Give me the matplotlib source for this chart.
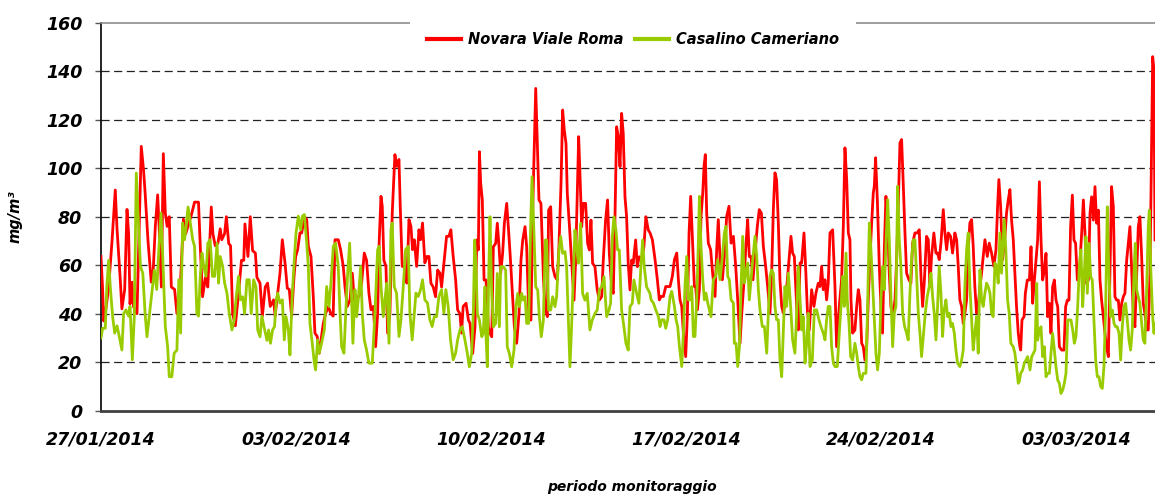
import numpy as np
import matplotlib
matplotlib.use("Agg")
import matplotlib.pyplot as plt
from matplotlib.patches import Rectangle

# ore dall'inizio del monitoraggio (27/01/2014 00:00) e concentrazioni
novara_h = [
    0, 1.4, 2.3, 3.7, 6.6, 9.5, 12.3, 13.8, 16.6, 18, 20.4, 22.4, 23.8, 25, 26.7, 28, 31, 32.4, 34.7, 36.7,
    38, 40.5, 43.3, 45, 46.8, 48.8, 50, 52, 53.7, 55.4, 57, 58.8, 60.6, 63.4, 65.4, 68.3, 71, 73, 75.5, 78,
    80.6, 84, 85.5, 87.5, 90, 92, 95, 96.4, 98.4, 100.7, 102.7, 104, 106.5, 108, 110, 111.6, 113.4, 115.7,
    118.5, 121, 123, 124, 126.6, 128.6, 130.6, 133, 134.3, 137, 139, 141.5, 143.5, 145.8, 148.7, 150, 152.2,
    154.2, 156.2, 158.5, 160.5, 162.2, 164.2, 166.3, 167.7, 169.4, 171.4, 172.9, 175.2, 177.2, 178.6, 180.9,
    182.9, 184.3, 186.3, 188, 190, 191.5, 193.5, 195.8, 198, 200, 201.6, 204.4, 206.4, 208.7, 210.2, 212.2,
    214.5, 216.5, 218.2, 220.2, 222.2, 224.5, 226.8, 228.8, 230.8, 232.6, 234.6, 236.6, 238.3, 239.7, 241.2,
    242.3, 243.7, 245.5, 246.9, 248.9, 250.9, 253.2, 254.7, 256.7, 257.8, 259.5, 261.8, 263.5, 265.3, 267,
    268.4, 269.9, 271.9, 273.9, 275.3, 277, 279, 280.8, 282.5, 284.2, 286.2, 288.2, 290, 292, 293.4, 295.7,
    297.7, 299.7, 301.4, 303.4, 305.5, 307.2, 309.2, 310.6, 312,
    314.5, 316.5, 317.9, 320.2, 322.2, 323.7, 325.1, 326, 327.1, 328.5, 330, 331.7, 333.7, 335.1, 336.6,
    338, 340, 341.4, 342.9, 344.3, 346, 347.5, 349.5, 350.9, 352.4, 354.4, 356.1, 358.1, 360.1, 361.8,
    363.3, 365.3, 366.7, 368.7, 370.4, 371.9, 373.3, 374.5, 375.9, 377.3, 379, 381.1, 382.5, 384.5, 385.6,
    387.4, 389.1, 391.1, 393.1, 394.5, 396.3, 397.7, 399.1, 400.6, 401.7, 403.4, 405.4, 407.5, 408.9, 410.3,
    411.5, 412.6, 414.1, 415.5, 417.5, 419.2, 420.7, 422.1, 423.5, 425.5, 427.5, 429.3, 431.3, 432.7, 434.7,
    436.4, 437.9, 439.9, 441.3, 442.8, 444.2, 445.6, 447.1, 448.5, 449.9, 451.4, 452.8, 454.2, 455.7, 457.1,
    458.5, 460.6, 462, 463.7, 465.7, 467.7, 469.4, 471.5,
    473, 475, 477.3, 479.3, 481, 482.5, 484.5, 486.5, 488.2, 490.2, 492.2, 494, 496, 497.4, 498.8, 500.3,
    501.7, 503.7, 505.1, 506.6, 508, 509.5, 511.2, 512.3, 513.8, 515.5, 516.9, 518.4, 519.5, 520.6, 521.8,
    523.2, 525.2, 526.9, 529, 530.4, 531.8, 533.3, 535.3, 537, 539, 541, 542.8, 544.8, 546.8, 548.5, 550.5,
    552, 554, 555.7, 557.1, 558.5, 560, 561.7, 563.4, 565.4, 567.1, 568.9, 570.6, 572.6, 574.3, 576.3,
    577.7, 579.2, 580.6, 582, 583.5, 584.9, 586.4, 587.8, 589.8, 591.5, 592.9, 594.4, 595.8, 597.3, 599.3,
    600.7, 602.2, 603.6, 605.6, 607, 608.5, 610.2, 612.2, 614.2, 615.9, 617.9, 619.4, 620.8, 622.2, 623.7,
    625.1, 626.5,
    628, 630.3, 632.3, 633.7, 636, 638, 639.5, 640.9, 642.4, 643.8, 645.2, 646.1, 647.5, 649.5, 651, 652.4,
    653.8, 655.3, 656.7, 658.1, 659.6, 661, 662.4, 663.9, 665.3, 666.2, 667.3, 668.8, 670.5, 671.9, 673.3,
    674.8, 676.2, 677.7, 679.1, 680.5, 682, 684, 685.4, 686.8, 688.3, 689.7, 691.1, 692.6, 694, 696, 697.7,
    699.2, 701.2, 703.2, 704.9, 706.4, 707.8, 709.2, 711.2, 712.7, 714.1, 715.5, 717.5, 719.3, 720.7, 722.1,
    723.6, 725.6, 727, 728.5, 729.9, 731.9, 733.6, 735.6, 737.1, 738.5, 739.9, 741.4, 742.8, 744.2, 745.7,
    747.1, 748.5, 750, 751.4, 752.8, 754.3, 755.7, 757.2, 758.6, 760, 761.5, 763.5, 765.2, 767.2, 769.2,
    771, 772.4, 773.5, 775, 776.7, 778.7, 780.1, 781.6, 783, 784.4, 785.9, 787.3, 788.7, 790.2, 791.6,
    792.3, 793.4, 795.2, 796.3, 798, 799.8, 801.2, 802.6, 804.1, 805.5, 806.9, 808.4, 809.8, 811.2, 812.7,
    814.1, 815.5, 817, 818.4, 819.8, 821.3, 822.7, 824.2, 825.6, 827.6, 829.6, 831, 832.5, 833.9, 835.3,
    836.8, 838.2, 839.6, 841.1, 842.8, 844.8, 846.3, 847.7, 849.1, 850.6, 852, 853.4, 854.9, 856.3, 857.7,
    859.2, 860.6, 862, 863.5, 864.9, 866.3, 867.8, 869.2, 870.6, 872.1, 873.5, 874.9, 876.4, 877.8, 879.3,
    880.7, 882.1, 883.6, 885, 886.4, 887.9, 889.3, 890.7, 892.2, 893.6, 895, 896.5, 897.9, 899.3, 900.8,
    902.2, 903.7, 905.1, 906, 907.1, 908]
novara_v = [
    63.6, 50, 37, 40, 51, 70, 91, 75, 54, 42, 50, 83, 73, 44, 53, 43, 40, 66, 109, 99,
    90, 70, 53, 58, 76, 89, 77, 51, 106, 81.5, 76, 80, 51, 50, 40, 51, 79, 73, 77, 81,
    86, 86, 68, 47, 55, 51, 84, 73, 68, 69, 75, 70.5, 73, 80, 69, 68, 40, 35,
    48.5, 62, 62, 77, 63.6, 80, 66, 65, 55, 52.6, 39, 51, 52.6, 43, 45.7, 39, 48.5,
    56.7, 70.5, 61, 50.5, 50, 39, 55.4, 63.6, 66.4, 73.3, 73.3, 80, 78.8, 67.8, 63.6,
    47, 32, 30.6, 23.7, 30.6, 36, 40, 43, 40, 39, 70.5, 70.5, 66.4, 59.5, 51, 43,
    45.7, 56.7, 45.7, 47, 47, 52.6, 65, 62, 48.5, 41.6, 43, 26.4, 40, 70.5, 88.4,
    84.3, 62, 59.5, 32, 40, 81.5, 105.6, 100.8, 103.6, 84.3, 59.5, 59.5, 52.6, 78.8, 76,
    66.4, 70.5, 59.5, 74.6, 70.5, 77.4, 61, 63.6, 63.6, 52.6, 51, 47, 58, 56.7, 51, 62,
    71.9, 71.9, 74.6, 63.6, 54, 41.6, 40, 32, 43,
    44.3, 37.4, 36, 23.6, 34.6, 70.4, 66.3, 106.8, 93.7, 86.9, 53.9, 53.9, 34.6, 31.9, 30.5,
    67.6, 69, 77.3, 67.6, 56.6, 64.9, 77.3, 85.5, 75.9, 64.9, 48.4, 34.6, 27.8, 40, 62.1,
    70.4, 75.9, 67.6, 37.4, 37.4, 82.7, 110.2, 132.9, 110.2, 86.9, 85.5, 55.3, 42.9, 38.8, 82.7,
    84.1, 59.4, 55.3, 53.9, 67.6, 93.7, 124, 115.7, 110.2, 89.6, 77.3, 62.1, 45.6, 62.1, 89.6,
    113, 97.9, 75.9, 85.5, 85.5, 69, 66.3, 78.6, 60.8, 59.4, 49.8, 45.6, 47, 62.1, 78.6,
    86.9, 64.9, 51.1, 48.4, 80, 117.1, 113, 100.6, 122.6, 114.4, 88.2, 80, 60.8, 49.8, 62.1,
    60.8, 70.4, 59.4, 63.5, 62.1, 67.6, 80, 74.5,
    73.3, 70.5, 62.3, 54, 45.7, 47.1, 47.1, 51.2, 51.2, 51.2, 55.4, 62.3, 65, 54, 45.7, 43,
    32, 22.3, 38.8, 73.3, 88.4, 70.5, 51.2, 51.2, 41.6, 49.9, 80.2, 89.8, 100.8, 105.6, 81.5,
    69.1, 66.4, 56.7, 47.1, 66.4, 78.8, 62.3, 54, 63.6, 80.2, 84.3, 69.1, 71.9, 59.5, 45.7, 27.8,
    40.2, 54, 69.1, 78.8, 63.6, 63.6, 54, 65, 76, 82.9, 81.5, 67.8, 59.5, 51.2, 40.2,
    55.4, 82.9, 98.1, 95.3, 77.4, 54, 43, 40.2, 45.7, 55.4, 63.6, 71.9, 65, 63.6, 43,
    33.3, 60.9, 60.9, 73.3, 59.5, 41.6, 33.3, 49.9, 43, 48.5, 52.6, 51.2, 59.5, 49.9, 54,
    45.7, 52.6,
    73.3, 74.6, 51.2, 26.4, 43, 54, 76, 108.4, 95.3, 73.3, 70.5, 45.7, 32, 33.3, 43, 49.9,
    45.7, 27.8, 26.4, 20.9, 26.4, 45.7, 62.3, 77.4, 89.8, 92.6, 104.3, 87, 59.5, 43, 32,
    66.4, 88.4, 77.4, 56.7, 43, 38.8, 45.7, 62.3, 84.3, 110.5, 111.8, 93.9, 73.3, 56.7, 54, 52.6,
    69.1, 73.3, 73.3, 74.6, 55.4, 43, 52.6, 71.9, 70.5, 51.2, 63.6, 73.3, 65, 65, 62.3,
    69.1, 82.9, 73.3, 66.4, 73.3, 71.9, 65, 73.3, 70.5, 59.5, 45.7, 43, 36, 40.2, 45.7,
    66.4, 77.4, 78.8, 67.8, 51.2, 40.2, 43, 51.2, 56.7, 63.6, 70.5, 63.6, 69.1, 65, 59.5,
    66.4, 84.3, 95.3, 84.3, 62.3, 71.9, 81.5, 87, 91.2, 78.8, 70.5, 56.7, 43, 32, 26.4,
    25, 37.4, 38.8, 48.4, 53.9, 53.9, 67.6, 44.3, 53.9, 62.1, 70.4, 94.4, 70.4, 53.9, 58,
    64.9, 38.8, 44.3, 31.9, 51.1, 53.9, 45.6, 42.9, 26.4, 25, 25, 42.9, 45.6, 45.6, 75.9,
    88.9, 70.4, 69, 53.9, 56.6, 73.1, 86.9, 73.1, 52.5, 53.9, 81.4, 88.2, 78.6, 92.4, 77.3,
    82.7, 53.9, 45.6, 38.8, 31.9, 26.4, 22.3, 56.6, 92.4, 84.1, 47, 45.6, 45.6, 37.4, 44.3,
    47, 48.4, 62.1, 69, 75.9, 58, 40.1, 34.6, 56.6, 75.9, 80, 63.5, 44.3, 40.1, 33.3,
    33.3, 56.6, 111.6, 146, 140.5, 70.4]

casalino_h = [
    0, 1.4, 3.7, 5, 6.6, 8, 10, 11.8, 13.8, 15.8, 18, 19.5, 21.5, 23.8, 25, 27, 28.7, 30.4, 32.4, 34,
    36, 38, 39.6, 41.6, 44, 46, 48, 50, 51.7, 53, 55.4, 57.4, 58.8, 61, 63, 65.4, 67, 68.6, 70.3, 72,
    73, 75, 77, 79, 80.6, 82.6, 84, 85.5, 87, 88.5, 90.4, 92, 94, 96, 97.9, 100, 101.3, 102.7, 104.8,
    106.5, 108.5, 110.5, 112.8, 114.8, 116.5, 118.5, 120, 122, 123.7, 125.7, 127.7, 129.4, 131.5, 133.5,
    135, 137, 138.6, 141, 143, 144.4, 146, 147.8, 149.5, 151, 152.2,
    154.2, 156.2, 157.9, 159.4, 161.4, 162.8, 164.8, 166.5, 168, 170, 172, 173.4, 175.2, 177.2, 178.6,
    180, 182, 183.8, 184.9, 186.6, 188, 190, 192.4, 194.4, 196.4, 198.1, 200.1, 202.1, 204.4, 205.9,
    207.3, 209.3, 210.7, 212.5, 214.2, 215.9, 217, 218.8, 220.2, 221.6, 223.7, 225.1, 226.8, 228.8,
    230.8, 233.7, 236, 238.3, 239.7, 241.2, 243.2, 244.6, 246.1, 248.1, 249.8, 250.9, 252.6, 254.6,
    256.7, 258.4, 260.4, 262.4, 264.7, 266.1, 268.1, 269.9, 271.3, 273.3, 275.3, 277, 279, 281.3,
    283.3, 285.3, 287.1, 289.1, 291.1, 293.4, 295.4, 297.1, 299.1, 301.1, 303.4, 305.5, 307.2, 309.2,
    311.2, 313.5,
    315.6, 317.3, 319.3, 320.8, 321.9, 323.1, 324.2, 326, 328, 329.4, 330.8, 331.7, 332.8, 334, 335.1,
    336.6, 338, 340, 341.4, 343.2, 344.3, 346.6, 348.6, 350, 351.8, 353.8, 355.8, 357.5, 359, 360.4,
    362.4, 363.8, 365.3, 366.7, 368.4, 370.1, 371.3, 373, 374.5, 376.2, 377.6, 379.3, 381.1, 382.8,
    383.9, 385.6, 387.4, 389.1, 391.1, 392.5, 394.5, 396, 397.7, 399.7, 401.1, 402.6, 404, 405.4,
    406.9, 408.3, 409.7, 411.2, 413.2, 414.9, 416.9, 418.9, 421.2, 423.2, 425.5, 427.5, 429.3, 431.3,
    433.3, 435.6, 437.6, 439, 440.5, 441.9, 443.6, 445, 446.5, 448.5, 450.5, 452.2, 454.2, 455.7,
    457.7, 459.1, 461.4, 463.4, 465.1, 466.6, 468, 470, 472.9,
    473.9, 475.9, 477.9, 480.2, 481.6, 483, 485, 486.5, 488.2, 490.2, 491.7, 494, 495.4, 496.8, 498.3,
    500.3, 501.7, 503.1, 504.6, 506, 507.4, 508.9, 510.3, 511.7, 513.2, 514.6, 515.5, 516.9, 518.4,
    519.8, 521.2, 522.7, 524.1, 525.5, 527.5, 529.5, 531.3, 533.3, 535.3, 537, 538.4, 539.9, 541.3,
    542.8, 544.8, 545.6, 547.1, 548.5, 550, 551.4, 552.8, 554.3, 555.7, 557.1, 558.5, 560, 561.7,
    563.4, 564.9, 566.3, 567.7, 569.7, 571.5, 573.5, 574.9, 576.3, 577.7, 579.2, 580.6, 582, 583.5,
    584.9, 586.4, 587.8, 589.2, 590.7, 592.1, 594.1, 595.8, 597.8, 599.3, 600.7, 602.2, 603.6, 605,
    606.5, 607.9, 609.3, 610.8, 612.8, 614.5, 616.5, 618.5, 620.2, 622.2, 623.7, 625.1, 626.5,
    628, 629.4, 630.9, 632.3, 634.3, 636, 637.5, 638.9, 640.3, 641.8, 642.9, 644.4, 645.8, 647.5,
    649.5, 651, 652.4, 653.8, 655.3, 656.7, 659, 660.4, 661.9, 663.3, 664.7, 666.2, 667.6, 669,
    670.5, 671.9, 673.3, 674.8, 676.2, 677.7, 679.1, 680.5, 682, 683.4, 684.8, 686.3, 687.7, 689.1,
    690.6, 692.3, 694, 695.4, 696.9, 698.3, 699.7, 701.2, 702.6, 704.1, 705.5, 706.9, 708.4, 710.1,
    711.8, 713.5, 715, 716.4, 717.8, 719.3, 720.7, 722.1, 723.6, 725, 726.4, 727.9, 729.3, 730.7,
    732.2, 733.6, 735.1, 736.5, 737.9, 739.9, 741.4, 742.8, 744.2, 745.7, 747.1, 748.5, 750, 751.4,
    752.8, 754.3, 755.7, 757.2, 758.6, 760, 761.5, 762.9, 764.3, 765.8, 767.2, 768.6, 770.1, 771.5,
    772.9, 774.4, 775.8, 777.2, 778.1, 779.5, 781, 782.4, 783.8, 785.9, 787.3, 788.7, 790.2,
    791.1, 792.3, 794, 795.4, 796.9, 798.3, 800.3, 801.8, 803.2, 804.6, 806.1, 806.9, 808.4, 809.8,
    811.2, 812.7, 814.1, 815.5, 817, 818.4, 819.8, 821.3, 822.7, 824.2, 825.6, 827, 828.5, 829.9,
    831.3, 832.8, 834.2, 835.6, 837.1, 838.5, 839.9, 841.4, 842.8, 844.2, 845.7, 847.1, 848.5, 849.7,
    851.1, 852.6, 854, 855.4, 856.9, 858.3, 859.7, 861.2, 862.6, 864, 865.5, 866.9, 868.3, 869.8,
    871.2, 872.7, 874.1, 875.5, 877, 878.4, 879.8, 881.3, 882.7, 884.1, 885.6, 887, 888.4, 889.9,
    891, 892.2, 893.6, 895, 896.5, 897.9, 899.3, 900.8, 902.2, 903.1, 904.5, 906, 907.1, 908]
casalino_v = [
    30, 34, 34, 51, 62, 51, 39, 32, 35, 30.5, 25, 40, 41.6, 39, 43, 21, 39, 98, 76, 59.5,
    56.7, 40, 30.5, 39, 49, 58, 50, 68, 81.5, 66, 34.7, 26.4, 14, 14, 23.7, 25, 54, 32, 77.4, 70.5,
    74.6, 84, 77.4, 70.5, 67.8, 40, 39, 55.4, 65, 59.5, 55.4, 69, 70.5, 55.4, 55.4, 69, 52.6, 63.6, 59.5,
    52.6, 48.5, 40, 33.3, 37.5, 47, 55.4, 45.7, 47, 40, 54, 54, 40, 54, 51,
    33.3, 30.5, 39, 33.3, 29, 33.3, 27.8, 33.3, 34.7, 45.7, 48.5,
    44.4, 45.7, 29.2, 38.8, 33.3, 23, 48.5, 62.3, 73.3, 80.2, 74.6, 80.2, 80.9, 69.1, 59.5,
    36, 27.8, 19.6, 16.8, 29.2, 23.7, 27.8, 33.3, 51.2, 43, 52.6, 67.8, 69.1, 59.5, 40.2,
    26.4, 23.7, 38.8, 56.7, 69.1, 45.7, 27.8, 49.9, 38.8, 45.7, 59.5, 40.2, 29.2, 25,
    19.6, 19.6, 40.2, 66.4, 67.8, 51.2, 38.8, 45.7, 52.6, 27.8, 74.6, 77.4, 51.2, 48.5,
    30.6, 37.5, 51.2, 66.4, 67.8, 40.2, 29.2, 40.2, 48.5, 47.1, 49.9, 54, 45.7, 44.4,
    37.5, 34.7, 38.8, 38.8, 47.1, 49.9, 40.2, 49.9, 43, 29.2, 21, 23.7, 29.2, 33.3,
    34.7, 29.2,
    23.6, 18.1, 23.6, 41.5, 70.4, 59.4, 40.1, 37.4, 30.5, 31.9, 51.1, 30.5, 18.1, 55.3, 80,
    48.4, 34.6, 36, 56.6, 34.6, 59.4, 59.4, 58, 26.4, 23.6, 18.1, 25, 42.9, 48.4, 42.9,
    48.4, 45.6, 47, 36, 36, 75.9, 96.5, 73.1, 51.1, 49.8, 38.8, 30.5, 37.4, 70.4,
    70.4, 41.5, 41.5, 47, 42.9, 47, 66.3, 71.8, 64.9, 65.6, 59.4, 37.4, 18.1, 34.6,
    55.3, 74.5, 67.6, 60.8, 77.3, 48.4, 45.6, 48.4, 33.3, 37.4, 40.1, 41.5, 49.8, 51.1,
    55.3, 38.8, 41.5, 44.3, 71.8, 80, 74.5, 66.3, 66.3, 41.5, 34.6, 27.8, 25, 42.9,
    44.3, 53.9, 48.4, 44.3, 59.4, 70.4, 59.4, 51.1, 48.4,
    45.7, 44.4, 41.6, 38.8, 34.7, 37.5, 37.5, 34, 37.5, 47.1, 49.2, 43, 37.5, 34.7, 26.4,
    18.2, 32, 51.2, 63.6, 45.7, 45.7, 51.2, 30.6, 30.6, 45.7, 69.1, 88.4, 67.8, 54,
    45.7, 48.5, 44.4, 41.6, 38.8, 54, 55.4, 62.3, 54, 63.6, 73.3, 76, 55.4, 54,
    45.7, 44.4, 27.8, 27.8, 18.2, 26.4, 51.2, 71.9, 52.6, 56.7, 60.9, 45.7, 54, 63.6,
    71.9, 63.6, 49.9, 41.6, 34.7, 34.7, 23.7, 40.2, 55.4, 58.1, 56.7, 43, 37.5, 37.5,
    20.9, 14, 32, 51.2, 43, 56.7, 43, 29.2, 23.7, 40.2, 59.5, 45.7, 33.3, 38.8,
    19.6, 27.8, 40.2, 18.2, 20.9, 41.6, 41.6, 37.5, 34.7, 32, 29.2, 37.5, 43,
    43, 26.4, 19.6, 18.2, 18.2, 32, 43, 55.4, 43, 65, 45.7, 36, 22.3, 20.9,
    27.8, 23.7, 18.2, 14, 12.7, 15.4, 15.4, 43, 77.4, 66.4, 52.6, 37.5, 23.7, 16.8,
    23.7, 45.7, 59.5, 49.9, 67.8, 87, 70.5, 47.1, 26.4, 40.2, 43, 92.6, 70.5, 59.5,
    40.2, 34.7, 32, 29.2, 48.5, 62.3, 70.5, 70.5, 55.4, 40.2, 32, 22.3, 30.6, 40.2,
    47.1, 51.2, 56.7, 47.1, 40.2, 29.2, 43, 59.5, 48.5, 30.6, 41.6, 45.7, 38.8, 40.2,
    34.7, 36, 32, 25, 19.6, 18.2, 20.9, 25, 51.2, 66.4, 73.3, 51.2, 37.5, 25,
    32, 38.8, 23.7, 58.1, 45.7, 43, 48.5, 52.6, 51.2, 48.5, 40.2, 38.8, 60.9, 59.5,
    52.6, 73.3, 56.7, 70.5, 78.8, 66.4, 45.7, 40.2, 27.8, 26.4, 23.7, 18.2, 11.3,
    12, 15.4, 16.8, 19.5, 20.9, 22.3, 16.8, 22.3, 23.6, 25, 52.5, 29.1, 33.3, 34.6,
    22.3, 26.4, 14, 15.4, 15.4, 23.6, 31.9, 25, 18.1, 12.6, 11.3, 7.1, 8.5, 11.3,
    15.4, 37.4, 37.4, 37.4, 33.3, 27.8, 30.5, 42.9, 59.4, 66.3, 42.9, 56.6, 71.8, 48.4,
    69, 55.3, 53.9, 37.4, 20.9, 14, 14, 9.9, 9.2, 18.1, 42.9, 84.1, 56.6, 38.8,
    41.5, 36, 34.6, 34.6, 31.9, 20.9, 34.6, 42.9, 44.3, 37.4, 29.1, 25, 33.3, 56.6,
    69, 49.8, 47, 44.3, 36, 29.1, 27.8, 49.8, 75.9, 82.7, 56.6, 38.8, 31.9, 36]

tick_hours = [0, 168, 336, 504, 672, 840]
tick_labels = ["27/01/2014", "03/02/2014", "10/02/2014", "17/02/2014", "24/02/2014", "03/03/2014"]
y_ticks = list(range(0, 161, 20))

FONT = dict(family="DejaVu Sans", weight="bold", style="italic")

fig = plt.figure(figsize=(11.55, 4.97), dpi=100)
ax = fig.add_axes([101 / 1155, 1 - 410.7 / 497, 1 - 101 / 1155, (410.7 - 22.7) / 497])

ax.plot(novara_h, novara_v, color="#FF0000", lw=2.0, label="Novara Viale Roma", zorder=3, solid_joinstyle="round")
ax.plot(casalino_h, casalino_v, color="#99CC00", lw=2.0, label="Casalino Cameriano", zorder=4, solid_joinstyle="round")

ax.set_xlim(0, 908)
ax.set_ylim(0, 160)
ax.set_yticks(y_ticks)
ax.set_xticks(tick_hours)
ax.set_xticklabels(tick_labels)
for lab in ax.get_xticklabels() + ax.get_yticklabels():
    lab.set_fontfamily(FONT["family"]); lab.set_fontweight("bold"); lab.set_fontstyle("italic")
    lab.set_fontsize(12.5)
ax.tick_params(axis="x", length=0, pad=14)
ax.tick_params(axis="y", length=4.5, width=1, color="#555555", pad=9)

for v in y_ticks[1:-1]:
    ax.axhline(v, color="#222222", lw=0.9, dashes=(6.5, 3.6), zorder=1)

ax.spines["right"].set_visible(False)
ax.spines["top"].set_color("#8c8c8c"); ax.spines["top"].set_linewidth(1.2)
ax.spines["left"].set_color("black"); ax.spines["left"].set_linewidth(1.2)
ax.spines["bottom"].set_color("#404040"); ax.spines["bottom"].set_linewidth(2)

# fascia bianca dietro la legenda (interrompe il bordo superiore)
ax.add_patch(Rectangle(((410 - 101) / 1054, 0.98), (856 - 410) / 1054, 0.04, transform=ax.transAxes,
                       facecolor="white", edgecolor="none", zorder=3, clip_on=False))

leg = ax.legend(loc="center", bbox_to_anchor=(633 / 1155, 1 - 40 / 497), bbox_transform=fig.transFigure,
                ncol=2, frameon=False, handlelength=2.3, handletextpad=0.5, columnspacing=0.8,
                prop=dict(FONT, size=10.5))
for h in leg.get_lines():
    h.set_linewidth(3)

fig.text(15 / 1155, 1 - 217 / 497, "mg/m³", rotation=90, ha="center", va="center", fontsize=10.5, **FONT)
fig.text(632 / 1155, 1 - 487 / 497, "periodo monitoraggio", ha="center", va="center", fontsize=10, **FONT)

fig.savefig("out.png", dpi=100)
